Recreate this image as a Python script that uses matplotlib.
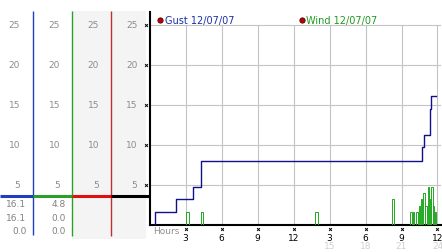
import matplotlib
matplotlib.use("Agg")
import matplotlib.pyplot as plt
import matplotlib.transforms as mtrans
from matplotlib.patches import Rectangle

# ---------------- data ----------------
gust_hours = [0.0, 0.45, 2.2, 3.65, 4.25, 4.32, 22.7, 22.85, 23.35, 23.5, 23.9]
gust_vals = [0.0, 1.6, 3.2, 4.8, 6.4, 8.0, 9.7, 11.3, 14.5, 16.1, 16.1]

# wind pulses: start hour, end hour, value
wind_start = [3.08, 4.29, 13.83, 20.22, 21.72, 21.95, 22.25, 22.45, 22.62, 22.8,
              23.0, 23.18, 23.35, 23.5, 23.63, 23.76]
wind_end = [3.25, 4.45, 14.0, 20.4, 21.85, 22.08, 22.38, 22.57, 22.75, 22.93,
            23.12, 23.3, 23.47, 23.6, 23.74, 23.88]
wind_vals = [1.6, 1.6, 1.6, 3.2, 1.6, 1.6, 1.6, 2.4, 3.2, 4.0,
             2.4, 4.8, 3.2, 4.8, 2.4, 1.6]
wind_range = [0.1, 23.95]

y_ticks = [5, 10, 15, 20, 25]
x_ticks = [3, 6, 9, 12, 15, 18, 21, 24]
x_labels = ["3", "6", "9", "12", "3", "6", "9", "12"]
x_labels2 = ["15", "18", "21", "24"]
x_ticks2 = [15, 18, 21, 24]

gust_legend = "Gust 12/07/07"
wind_legend = "Wind 12/07/07"
col1_values = ["16.1", "16.1", "0.0"]
col2_values = ["4.8", "0.0", "0.0"]

# ---------------- layout ----------------
W, H = 442, 253
fig = plt.figure(figsize=(W / 100, H / 100), dpi=100)
fig.patch.set_facecolor("white")

bg = fig.add_axes([0, 0, 1, 1])
bg.set_xlim(0, W)
bg.set_ylim(H, 0)
bg.axis("off")

x0, x1 = 149.5, 441
ytop, ybot = 13, 226
ppu_x = 12.0
ppu_y = 8.0
ax = fig.add_axes([x0 / W, (H - ybot) / H, (x1 - x0) / W, (ybot - ytop) / H])
ax.set_xlim(0, (x1 - x0) / ppu_x)
ax.set_ylim(0, (ybot - ytop) / ppu_y)
ax.patch.set_alpha(0)
for s in ["top", "right"]:
    ax.spines[s].set_visible(False)
for s in ["left", "bottom"]:
    ax.spines[s].set_linewidth(1.5)
    ax.spines[s].set_color("black")
ax.tick_params(length=0)
ax.set_yticks([])

grid_c = "#c4c4c4"
for yv in y_ticks:
    ax.axhline(yv, color=grid_c, lw=0.8, zorder=1)
ax.vlines(x_ticks, 0, max(y_ticks), color=grid_c, lw=0.8, zorder=1)

ax.set_xticks(x_ticks)
ax.set_xticklabels(x_labels, fontsize=6.5, color="black")
ax.tick_params(axis="x", pad=5.5)

# gust line
ax.plot(gust_hours, gust_vals, drawstyle="steps-post", color="#10108a", lw=1.0, zorder=4)

# wind line built from pulse lists
wx, wy = [wind_range[0]], [0.0]
for s, e, v in zip(wind_start, wind_end, wind_vals):
    wx += [s, s, e, e]
    wy += [0.0, v, v, 0.0]
wx.append(wind_range[1])
wy.append(0.0)
ax.plot(wx, wy, color="#22aa22", lw=0.7, zorder=3)

# tick "x" markers
tx = mtrans.blended_transform_factory(ax.transData, bg.transData)
ty = mtrans.blended_transform_factory(bg.transData, ax.transData)
ax.plot(x_ticks, [229.5] * len(x_ticks), ls="none", marker="x", ms=2.0, mew=0.7,
        color="black", transform=tx, clip_on=False)
ax.plot([146] * len(y_ticks), y_ticks, ls="none", marker="x", ms=2.0, mew=0.7,
        color="black", transform=ty, clip_on=False)
for xt, lab in zip(x_ticks2, x_labels2):
    ax.text(xt, 246.5, lab, transform=tx, ha="center", va="center", fontsize=6.5,
            color="#d0d0d0", clip_on=False, zorder=0)
bg.text(153, 232, "Hours", ha="left", va="center", fontsize=6.5, color="#909090")

# left panels
bg.add_patch(Rectangle((72, 12), 74, 228, facecolor="#f4f4f4", edgecolor="none", zorder=0))
bg.vlines(33, 12, 236, color="#1f3fbf", lw=1.0)
bg.vlines(72, 12, 237, color="#2a9f2a", lw=1.0)
bg.vlines(111, 12, 237, color="#c03030", lw=1.0)
bg.hlines(197, 0, 33, color="#1f3fbf", lw=2.2)
bg.hlines(197, 33, 72, color="#2a9f2a", lw=2.2)
bg.hlines(197, 72, 111, color="#dd1111", lw=2.2)
bg.hlines(197, 111, 149, color="black", lw=2.2)

lab_c = "#8c8c8c"
for xr in [20, 60, 99, 137.5]:
    for yv in y_ticks:
        bg.text(xr, yv, str(yv), transform=ty,
                ha="right", va="center", fontsize=6.5, color=lab_c)

for i, (a, b) in enumerate(zip(col1_values, col2_values)):
    yy = 205 + i * 13.5
    bg.text(26.5, yy, a, ha="right", va="center", fontsize=6.5, color="#808080")
    bg.text(65.5, yy, b, ha="right", va="center", fontsize=6.5, color="#808080")

# legend
bg.plot([160], [21], marker="o", ms=3.8, mfc="#c00000", mec="#500000", mew=0.6)
bg.text(165, 21, gust_legend, ha="left", va="center", fontsize=7, color="#1c2fa8")
bg.plot([302], [21], marker="o", ms=3.8, mfc="#c00000", mec="#500000", mew=0.6)
bg.text(306.5, 21, wind_legend, ha="left", va="center", fontsize=7, color="#209a20")

fig.savefig("out.png", dpi=100)
